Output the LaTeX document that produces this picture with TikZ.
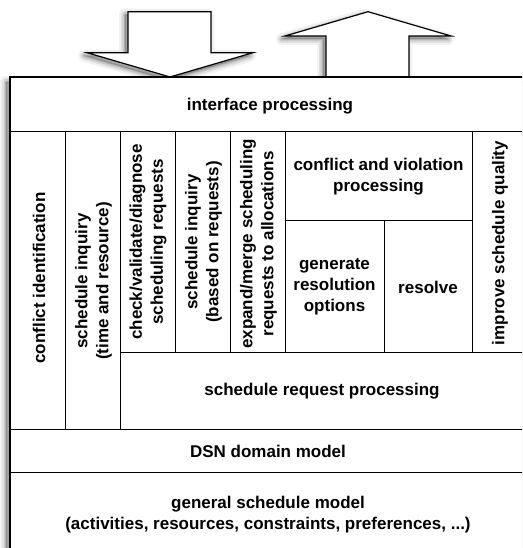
\documentclass[tikz,border=0pt]{standalone}
\usepackage{fontspec}
\setmainfont{Liberation Sans}
\begin{document}
\begin{tikzpicture}[x=1pt,y=-1pt,
  outerline/.style={draw=black,line width=1.6pt},
  innerline/.style={draw=black,line width=1pt},
  arrowshape/.style={draw=black,fill=white,line width=1.2pt,line join=miter},
  lbl/.style={font=\bfseries\fontsize{17}{21}\selectfont,align=center,inner sep=0pt},
  vlbl/.style={lbl,rotate=90}]
\useasboundingbox (0,0) rectangle (522,548);
\clip (0,0) rectangle (522,548);
\fill[white] (0,0) rectangle (522,548);
% soft shadows
\newcommand{\softshadow}[2]{%
  \foreach \w/\o in {12/0.05,8/0.07,5/0.09,2/0.12}{%
    \draw[black,line width=\w pt,opacity=\o,line join=round,shift={#1}] #2;}%
  \fill[black,opacity=0.2,shift={#1}] #2;}
\softshadow{(-3,3)}{(128,11.7) -- (211,11.7) -- (211,52.7) -- (253,52.7) -- (170,77) -- (87,52.7) -- (128,52.7) -- cycle}
\softshadow{(-3,3)}{(326,77) -- (326,36) -- (285,36) -- (368,11.7) -- (451,36) -- (409,36) -- (409,77) -- cycle}
\softshadow{(-4,5)}{(10,77) rectangle (580,600)}
% arrows
\path[arrowshape] (128,11.7) -- (211,11.7) -- (211,52.7) -- (253,52.7) -- (170,77) -- (87,52.7) -- (128,52.7) -- cycle;
\path[arrowshape] (326,77) -- (326,36) -- (285,36) -- (368,11.7) -- (451,36) -- (409,36) -- (409,77) -- cycle;
% main box
\path[outerline,fill=white] (10,77) rectangle (540,570);
% inner lines
\draw[innerline] (10,132) -- (540,132);
\draw[innerline] (10,429) -- (540,429);
\draw[innerline] (10,472) -- (540,472);
\draw[innerline] (65,132) -- (65,429);
\draw[innerline] (120,132) -- (120,429);
\draw[innerline] (120,352) -- (540,352);
\draw[innerline] (175,132) -- (175,352);
\draw[innerline] (230.7,132) -- (230.7,352);
\draw[innerline] (285,132) -- (285,352);
\draw[innerline] (472,132) -- (472,352);
\draw[innerline] (285,220) -- (472,220);
\draw[innerline] (384,220) -- (384,352);
% labels
\node[lbl] (ip) at (270,106) {interface processing};
\node[vlbl] (ci) at (39,278) {conflict identification};
\node[vlbl] (si) at (93.5,281) {schedule inquiry\\(time and resource)};
\node[vlbl] (cv) at (148,242) {check/validate/diagnose\\scheduling requests};
\node[vlbl] (sb) at (203.5,242) {schedule inquiry\\(based on requests)};
\node[vlbl] (em) at (258.5,244) {expand/merge scheduling\\requests to allocations};
\node[lbl] (cvp) at (378.5,177) {conflict and violation\\processing};
\node[lbl] (gro) at (334.5,287) {generate\\resolution\\options};
\node[lbl] (res) at (428,287) {resolve};
\node[vlbl] (isq) at (500,243) {improve schedule quality};
\node[lbl] (srp) at (322,391) {schedule request processing};
\node[lbl] (dsn) at (268,451) {DSN domain model};
\node[lbl] (gsm) at (268,515) {general schedule model\\(activities, resources, constraints, preferences, ...)};
\end{tikzpicture}
\end{document}
